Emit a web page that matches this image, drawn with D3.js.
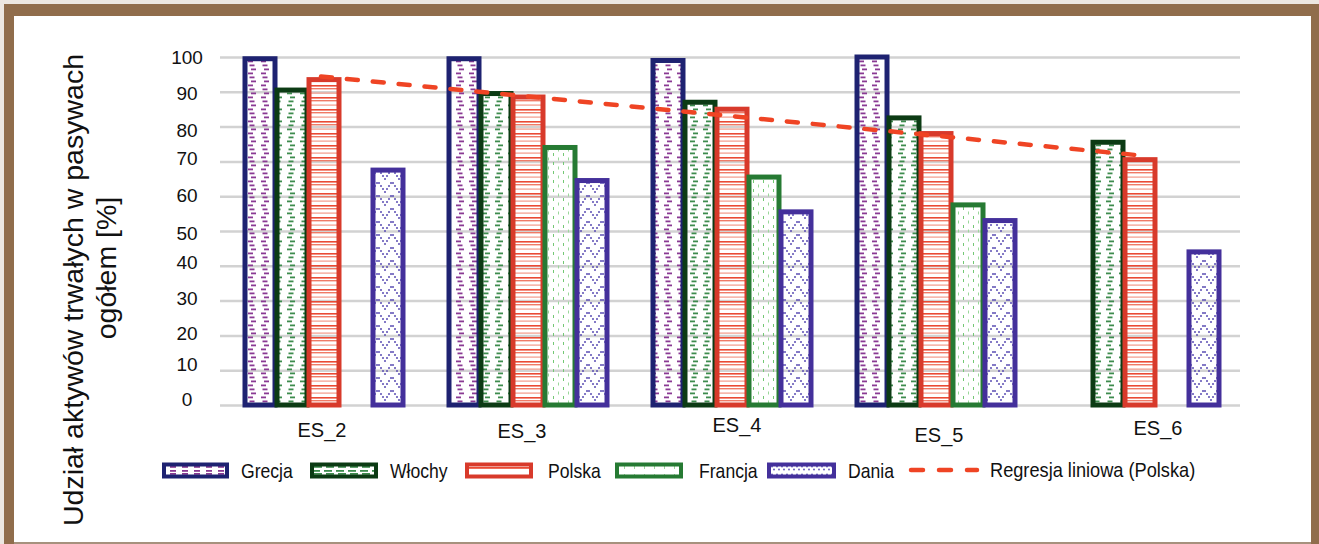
<!DOCTYPE html>
<html><head><meta charset="utf-8">
<script src="https://cdn.jsdelivr.net/npm/d3@7"></script>
<style>
html,body{margin:0;padding:0;background:#fff;}
svg{display:block;}
</style></head>
<body>
<script>
const categories = ["ES_2","ES_3","ES_4","ES_5","ES_6"];
const seriesNames = ["Grecja","Włochy","Polska","Francja","Dania"];
const grecja  = [99.5, 99.5, 99, 100, null];
const wlochy  = [90.5, 89.5, 87, 82.5, 75.5];
const polska  = [93.5, 88.5, 85, 78, 70.5];
const francja = [null, 74, 65.5, 57.5, null];
const dania   = [67.5, 64.5, 55.5, 53, 44];
const yTicks  = [0,10,20,30,40,50,60,70,80,90,100];
const regressionLabel = "Regresja liniowa (Polska)";
const yTitle = ["Udział aktywów trwałych w pasywach","ogółem [%]"];

const seriesValues = [grecja, wlochy, polska, francja, dania];
const strokes = ["#1e2271","#0c3b14","#d83a2b","#267a33","#44309b"];

const W = 1319, H = 544;
const svg = d3.select("body").append("svg").attr("width", W).attr("height", H);
const FONT = "'Liberation Sans', Arial, sans-serif";

// frame
svg.append("rect").attr("x",0).attr("y",0).attr("width",W).attr("height",H).attr("fill","#ece7e1");
svg.append("rect").attr("x",4).attr("y",4).attr("width",W-4).attr("height",H-4).attr("fill","#906d4c");
svg.append("rect").attr("x",14).attr("y",16).attr("width",1297).attr("height",526).attr("fill","#fff");
svg.append("line").attr("x1",14).attr("x2",1311).attr("y1",543).attr("y2",543).attr("stroke","#bdb6ae").attr("stroke-width",1);

// patterns
const defs = svg.append("defs");
{
  const p = defs.append("pattern").attr("id","p0").attr("patternUnits","userSpaceOnUse").attr("width",13).attr("height",12);
  [[1,0.5],[2.5,4.5],[4,8.5]].forEach(([x,y])=>p.append("rect").attr("x",x).attr("y",y).attr("width",5).attr("height",1.8).attr("fill","#8a3a93"));
}
{
  const p = defs.append("pattern").attr("id","p1").attr("patternUnits","userSpaceOnUse").attr("width",13).attr("height",12);
  [[4,0.5],[2.5,4.5],[1,8.5]].forEach(([x,y])=>p.append("rect").attr("x",x).attr("y",y).attr("width",5).attr("height",1.8).attr("fill","#3e8c4e"));
}
{
  const p = defs.append("pattern").attr("id","p2").attr("patternUnits","userSpaceOnUse").attr("width",10).attr("height",12);
  p.append("rect").attr("x",0).attr("y",1).attr("width",10).attr("height",1.6).attr("fill","#ea4a34");
  p.append("rect").attr("x",0).attr("y",4).attr("width",10).attr("height",1.4).attr("fill","#f07a66");
  p.append("rect").attr("x",0).attr("y",8.5).attr("width",10).attr("height",1.2).attr("fill","#f39a8a");
}
{
  const p = defs.append("pattern").attr("id","p3").attr("patternUnits","userSpaceOnUse").attr("width",10).attr("height",9);
  p.append("rect").attr("x",3).attr("y",0).attr("width",1).attr("height",3).attr("fill","#74c874");
  p.append("rect").attr("x",8).attr("y",4.5).attr("width",1).attr("height",3).attr("fill","#9ad89a");
}
{
  const p = defs.append("pattern").attr("id","p4").attr("patternUnits","userSpaceOnUse").attr("width",14).attr("height",13);
  [[1,1],[3,4],[5,7],[7,10],[9,7],[11,4],[13,1]].forEach(([x,y])=>p.append("circle").attr("cx",x).attr("cy",y).attr("r",1).attr("fill","#5a4db3"));
}
{
  const p = defs.append("pattern").attr("id","l0").attr("patternUnits","userSpaceOnUse").attr("width",12).attr("height",7);
  p.append("rect").attr("x",2).attr("y",1).attr("width",6).attr("height",1.8).attr("fill","#8a3a93");
  p.append("rect").attr("x",2).attr("y",4).attr("width",6).attr("height",1.8).attr("fill","#8a3a93");
  const p1 = defs.append("pattern").attr("id","l1").attr("patternUnits","userSpaceOnUse").attr("width",12).attr("height",7);
  p1.append("rect").attr("x",0).attr("y",1).attr("width",8).attr("height",1.8).attr("fill","#3e8c4e");
  p1.append("rect").attr("x",2).attr("y",4).attr("width",8).attr("height",1.8).attr("fill","#3e8c4e");
  const p2 = defs.append("pattern").attr("id","l2").attr("patternUnits","userSpaceOnUse").attr("width",10).attr("height",8);
  p2.append("rect").attr("x",0).attr("y",3).attr("width",10).attr("height",1.8).attr("fill","#ea4a34");
  const p3 = defs.append("pattern").attr("id","l3").attr("patternUnits","userSpaceOnUse").attr("width",10).attr("height",8);
  p3.append("rect").attr("x",4).attr("y",2).attr("width",1).attr("height",3).attr("fill","#9ad89a");
  const p4 = defs.append("pattern").attr("id","l4").attr("patternUnits","userSpaceOnUse").attr("width",5).attr("height",8);
  p4.append("circle").attr("cx",2).attr("cy",2.5).attr("r",0.9).attr("fill","#5a4db3");
  p4.append("circle").attr("cx",4).attr("cy",5.5).attr("r",0.9).attr("fill","#5a4db3");
}

// scales
const x = d3.scaleBand().domain(categories).range([220,1240]).padding(0);
const xs = d3.scaleBand().domain(seriesNames).range([-78,82]).padding(0);
const y = d3.scaleLinear().domain([0,100]).range([405,57]);

// grid + y tick labels
const tickDy = [-6,-6,-2,-3,-4,2,-1,-3,3,1,0];
const gAxis = svg.append("g").attr("transform","translate(220,0)")
  .call(d3.axisLeft(y).tickValues(yTicks).tickSize(-1020).tickPadding(0));
gAxis.select(".domain").remove();
gAxis.selectAll(".tick line").attr("stroke","#d2d2d2").attr("stroke-width",2.5);
gAxis.selectAll(".tick text").attr("font-family",FONT).attr("font-size",19).attr("fill","#111")
  .attr("text-anchor","middle").attr("x",-33).attr("dy",(d,i)=>(tickDy[i]+6.5)+"px");

// bars
seriesNames.forEach((s,i)=>{
  const vals = seriesValues[i];
  svg.append("g").selectAll("rect").data(categories.map((c,j)=>({c,v:vals[j]})).filter(d=>d.v!=null))
    .join("rect")
    .attr("x", d=>x(d.c)+x.bandwidth()/2+xs(s)+1)
    .attr("width", xs.bandwidth()-2)
    .attr("y", d=>y(d.v))
    .attr("height", d=>y(0)-y(d.v))
    .attr("fill", `url(#p${i})`)
    .attr("stroke", strokes[i]).attr("stroke-width",5);
});

// regression line for Polska
{
  const idx = polska.map((v,i)=>i);
  const mx = d3.mean(idx), my = d3.mean(polska);
  const slope = d3.sum(idx.map(i=>(i-mx)*(polska[i]-my))) / d3.sum(idx.map(i=>(i-mx)**2));
  const b = my - slope*mx;
  const pts = [0, idx.length-1].map(i=>[x(categories[i])+x.bandwidth()/2 + xs("Polska")+xs.bandwidth()/2 - 3, y(b+slope*i)]);
  svg.append("path").attr("d", d3.line()(pts)).attr("fill","none")
    .attr("stroke","#ef4424").attr("stroke-width",4.5).attr("stroke-linecap","round")
    .attr("stroke-dasharray","11 15");
}

// x labels
const labDx = [0,-4,7,5,20];
const labY = [437,438,432,442,435];
categories.forEach((c,i)=>{
  svg.append("text").attr("x", x(c)+x.bandwidth()/2+labDx[i]).attr("y", labY[i])
    .attr("text-anchor","middle").attr("font-family",FONT)
    .attr("font-size",20).attr("fill","#111").text(c);
});

// y title
svg.append("text").attr("transform","translate(83,290) rotate(-90)").attr("text-anchor","middle")
  .attr("font-family",FONT).attr("font-size",28.5).attr("fill","#111").text(yTitle[0]);
svg.append("text").attr("transform","translate(116,268) rotate(-90)").attr("text-anchor","middle")
  .attr("font-family",FONT).attr("font-size",28.5).attr("fill","#111").text(yTitle[1]);

// legend
const legX = [164, 312, 467, 617, 769];
const legW = [63, 64, 64, 64, 65];
const legTX = [241, 390, 548, 699, 848];
seriesNames.forEach((s,i)=>{
  svg.append("rect").attr("x",legX[i]).attr("y",464.5).attr("width",legW[i]).attr("height",12)
    .attr("fill",`url(#l${i})`).attr("stroke",strokes[i]).attr("stroke-width",4);
  svg.append("text").attr("transform",`translate(${legTX[i]},478) scale(0.88,1)`).attr("font-family",FONT)
    .attr("font-size",20).attr("fill","#111").text(s);
});
svg.append("line").attr("x1",911).attr("x2",977).attr("y1",470).attr("y2",470)
  .attr("stroke","#ef4424").attr("stroke-width",4.5).attr("stroke-linecap","round").attr("stroke-dasharray","12 16");
svg.append("text").attr("transform","translate(990,477) scale(0.91,1)").attr("font-family",FONT)
  .attr("font-size",20).attr("fill","#111").text(regressionLabel);
</script>
</body></html>
